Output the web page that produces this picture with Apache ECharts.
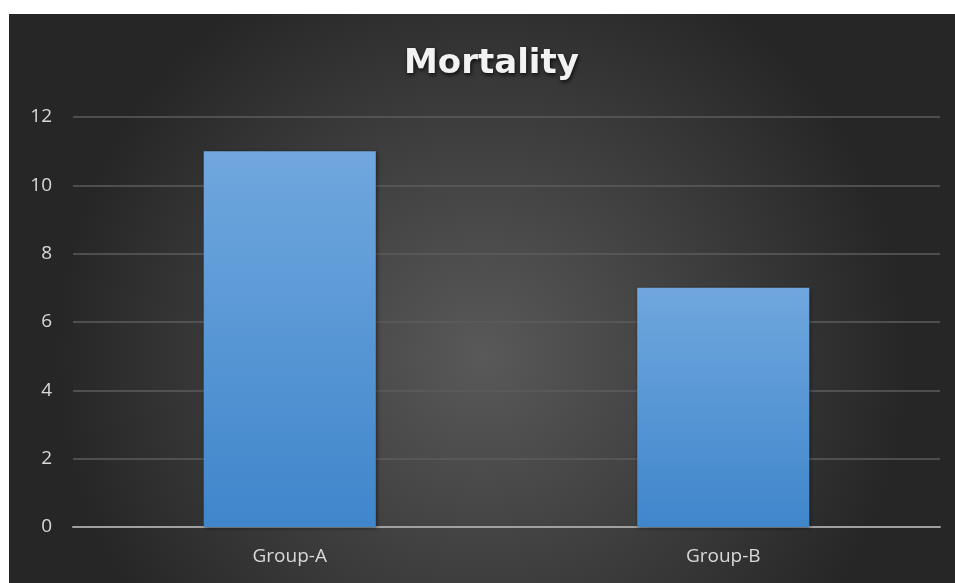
<!DOCTYPE html>
<html>
<head>
<meta charset="utf-8">
<script src="https://cdn.jsdelivr.net/npm/echarts@6/dist/echarts.min.js"></script>
<style>
html,body{margin:0;padding:0;background:#fff;}
#main{width:955px;height:583px;}
</style>
</head>
<body>
<div id="main"></div>
<script>
var categories = ["Group-A", "Group-B"];
var mortality = [11, 7];
var yTicks = { min: 0, max: 12, interval: 2 };

var chart = echarts.init(document.getElementById('main'), null, { renderer: 'canvas' });
chart.setOption({
  backgroundColor: '#ffffff',
  animation: false,
  graphic: [{
    type: 'rect',
    z: -100,
    silent: true,
    shape: { x: 9, y: 14, width: 946, height: 569 },
    style: {
      fill: new echarts.graphic.RadialGradient(0.5, 0.6, 0.75, [
        { offset: 0, color: '#595959' },
        { offset: 1, color: '#262626' }
      ])
    }
  }],
  title: {
    text: 'Mortality',
    left: 399,
    top: 42,
    textStyle: {
      color: '#f2f2f2',
      fontFamily: 'DejaVu Sans',
      fontWeight: 'bold',
      fontSize: 34,
      textShadowColor: 'rgba(0,0,0,0.8)',
      textShadowBlur: 4,
      textShadowOffsetX: 1,
      textShadowOffsetY: 2
    }
  },
  grid: { left: 73, right: 15, top: 117, bottom: 56, containLabel: false },
  xAxis: {
    type: 'category',
    data: categories,
    axisLine: { show: true, lineStyle: { color: '#a0a0a0', width: 2 } },
    axisTick: { show: false },
    axisLabel: { color: '#d9d9d9', fontSize: 19, fontFamily: 'Open Sans', margin: 20 }
  },
  yAxis: {
    type: 'value',
    min: yTicks.min,
    max: yTicks.max,
    interval: yTicks.interval,
    axisLine: { show: false },
    axisTick: { show: false },
    splitLine: { lineStyle: { color: '#5c5c5c', width: 1.5 } },
    axisLabel: { color: '#d9d9d9', fontSize: 19, fontFamily: 'Open Sans', margin: 21 }
  },
  series: [{
    type: 'bar',
    data: mortality,
    barWidth: '39.7%',
    itemStyle: {
      color: new echarts.graphic.LinearGradient(0, 0, 0, 1, [
        { offset: 0, color: '#70a7de' },
        { offset: 1, color: '#3f86cb' }
      ]),
      shadowColor: 'rgba(0,0,0,0.5)',
      shadowBlur: 4,
      shadowOffsetX: 1,
      shadowOffsetY: 1
    }
  }]
});
</script>
</body>
</html>
